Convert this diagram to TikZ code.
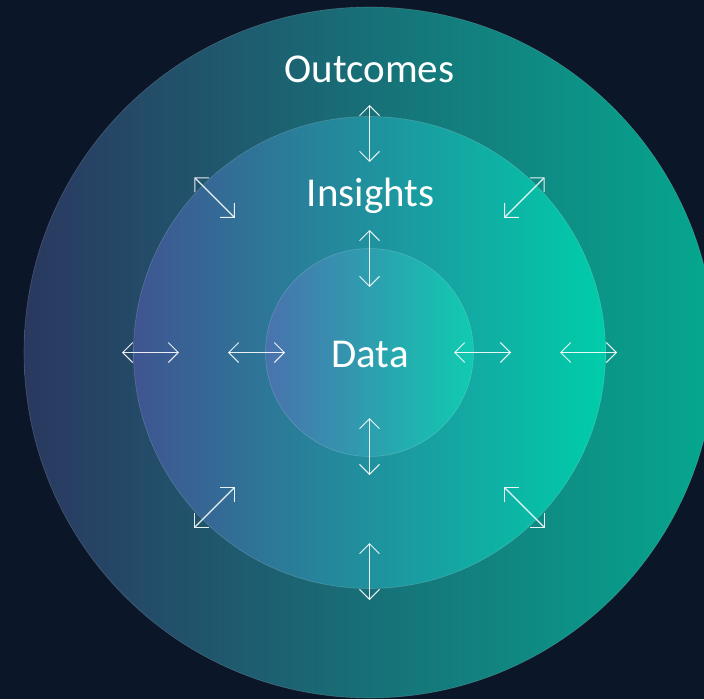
\documentclass[tikz,border=0pt]{standalone}
\usepackage{fontspec}
\setmainfont{Carlito}
\usetikzlibrary{arrows.meta}

\definecolor{bgnavy}{HTML}{0B1628}
\definecolor{outerL}{HTML}{2A3860}
\definecolor{outerM}{HTML}{225A6B}
\definecolor{outerR}{HTML}{05A88F}
\definecolor{midL}{HTML}{3F5591}
\definecolor{midM}{HTML}{2E7F98}
\definecolor{midR}{HTML}{00CDAA}
\definecolor{innerL}{HTML}{4A72AE}
\definecolor{innerM}{HTML}{3697B2}
\definecolor{innerR}{HTML}{10CBB0}

\tikzset{
	ring/.style = {draw=white, draw opacity=0.18, line width=0.6pt},
	dblarrow/.style = {draw=white, draw opacity=0.9, line width=1.2pt,
		{Straight Barb[length=10pt, width=20pt, line width=1pt]}-{Straight Barb[length=10pt, width=20pt, line width=1pt]}},
	label/.style = {text=white, font=\fontsize{41}{48}\selectfont, inner sep=0pt}
}

\begin{document}
\begin{tikzpicture}[x=1pt, y=-1pt]
	\fill[bgnavy] (0,0) rectangle (704,699);
	\useasboundingbox (0,0) rectangle (704,699);
	\clip (0,0) rectangle (704,699);
	\coordinate (ctr) at (369.5,352.5);

	\shade[ring, left color=outerL, middle color=outerM, right color=outerR] (ctr) circle (345.5);
	\shade[ring, left color=midL, middle color=midM, right color=midR] (ctr) circle (236);
	\shade[ring, left color=innerL, middle color=innerM, right color=innerR] (ctr) circle (104);

	\node[label] (outcomes) at (369.5,69) {Outcomes};
	\node[label] (insights) at (370.5,196) {Insights};
	\node[label] (data) at (370,354) {Data};

	% outer ring of arrows
	\foreach \a in {0,45,...,315} {
		\path (ctr) ++(\a:190.5) coordinate (os\a) ++(\a:57) coordinate (oe\a);
		\draw[dblarrow] (os\a) -- (oe\a);
	}
	% inner ring of arrows
	\foreach \a/\r in {0/113, 90/94, 180/113, 270/94} {
		\path (ctr) ++(\a:\r-28.5) coordinate (is\a) ++(\a:57) coordinate (ie\a);
		\draw[dblarrow] (is\a) -- (ie\a);
	}
\end{tikzpicture}
\end{document}
